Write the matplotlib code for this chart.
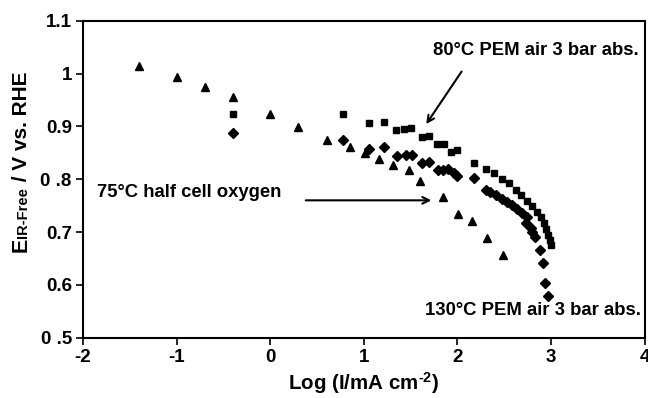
import matplotlib
matplotlib.use("Agg")
import matplotlib.pyplot as plt
from matplotlib.transforms import offset_copy

plt.rcParams['font.family'] = ['Liberation Sans', 'DejaVu Sans']
plt.rcParams['font.weight'] = 'bold'
plt.rcParams['mathtext.fontset'] = 'custom'
plt.rcParams['mathtext.rm'] = 'Liberation Sans:bold'
plt.rcParams['mathtext.bf'] = 'Liberation Sans:bold'
plt.rcParams['mathtext.it'] = 'Liberation Sans:bold'

# 80°C PEM air 3 bar abs. (squares)
sq_x = [-0.4, 0.78, 1.05, 1.21, 1.34, 1.43, 1.50, 1.62, 1.70, 1.78, 1.86, 1.93, 2.0,
        2.18, 2.30, 2.39, 2.48, 2.55, 2.62, 2.68, 2.745, 2.80, 2.845, 2.89, 2.92,
        2.95, 2.97, 2.99, 3.0]
sq_y = [0.923, 0.924, 0.907, 0.908, 0.893, 0.895, 0.896, 0.879, 0.881, 0.866, 0.866,
        0.852, 0.855, 0.830, 0.820, 0.811, 0.801, 0.792, 0.780, 0.770, 0.759, 0.749,
        0.738, 0.728, 0.717, 0.705, 0.694, 0.684, 0.675]

# 130°C PEM air 3 bar abs. (diamonds)
di_x = [-0.4, 0.78, 1.06, 1.22, 1.35, 1.45, 1.51, 1.62, 1.70, 1.79, 1.85, 1.90, 1.96,
        2.0, 2.18, 2.30, 2.35, 2.41, 2.48, 2.53, 2.585, 2.64, 2.69, 2.745, 2.73,
        2.78, 2.80, 2.83, 2.88, 2.91, 2.93, 2.97]
di_y = [0.887, 0.875, 0.858, 0.860, 0.844, 0.845, 0.845, 0.831, 0.833, 0.817, 0.818,
        0.820, 0.811, 0.807, 0.802, 0.779, 0.776, 0.771, 0.763, 0.757, 0.751, 0.743,
        0.736, 0.728, 0.717, 0.708, 0.700, 0.691, 0.666, 0.641, 0.603, 0.578]

# 75°C half cell oxygen (triangles)
tr_x = [-1.40, -1.0, -0.70, -0.40, 0.0, 0.30, 0.61, 0.85, 1.01, 1.16, 1.31, 1.48,
        1.60, 1.85, 2.01, 2.15, 2.31, 2.49]
tr_y = [1.014, 0.994, 0.975, 0.955, 0.923, 0.899, 0.875, 0.861, 0.850, 0.839, 0.826,
        0.817, 0.797, 0.766, 0.735, 0.721, 0.688, 0.656]

x_ticks = [-2, -1, 0, 1, 2, 3, 4]
x_ticklabels = ['-2', '-1', '0', '1', '2', '3', '4']
y_ticks = [0.5, 0.6, 0.7, 0.8, 0.9, 1.0, 1.1]
y_ticklabels = ['0 .5', '0.6', '0.7', '0 .8', '0.9', '1', '1.1']

fig = plt.figure(figsize=(6.48, 3.98), dpi=100)
ax = fig.add_axes([0.128, 0.1515, 0.867, 0.7965])

ax.plot(tr_x, tr_y, linestyle='none', marker='^', ms=6.2, color='black')
ax.plot(sq_x, sq_y, linestyle='none', marker='s', ms=4.8, color='black')
ax.plot(di_x, di_y, linestyle='none', marker='D', ms=4.8, color='black')

ax.set_xlim(-2, 4)
ax.set_ylim(0.5, 1.1)
ax.set_xticks(x_ticks)
ax.set_xticklabels(x_ticklabels)
ax.set_yticks(y_ticks)
ax.set_yticklabels(y_ticklabels)
ax.tick_params(direction='out', length=5, width=1.2, labelsize=13.5, pad=3)
for s in ax.spines.values():
    s.set_linewidth(1.5)

ax.set_xlabel(r'Log (I/mA cm$^{\text{-2}}$)', fontsize=14.8, fontweight='bold', labelpad=3)

# y label built from pieces so the subscript stays on the baseline
renderer = fig.canvas.get_renderer()
x0 = 27.0 / 648
y0 = 1 - 252.0 / 398
pieces = [('E', 15.5), ('IR-Free', 10.5), (' / V vs. RHE', 15.0)]
trans = fig.transFigure
for txt, fs in pieces:
    t = fig.text(x0, y0, txt, rotation=90, rotation_mode='anchor', ha='left',
                 va='baseline', fontsize=fs, fontweight='bold', transform=trans)
    bb = t.get_window_extent(renderer=renderer)
    trans = offset_copy(trans, fig=fig, x=0, y=bb.height * 72.0 / fig.dpi, units='points')

ax.text(3.93, 1.044, '80°C PEM air 3 bar abs.', ha='right', va='center',
        fontsize=13.3, fontweight='bold')
ax.annotate('', xy=(1.65, 0.90), xytext=(2.06, 1.008),
            arrowprops=dict(arrowstyle='->', color='black', lw=1.5, mutation_scale=12))

ax.text(-1.85, 0.775, '75°C half cell oxygen', ha='left', va='center',
        fontsize=13.3, fontweight='bold')
ax.annotate('', xy=(1.75, 0.76), xytext=(0.35, 0.76),
            arrowprops=dict(arrowstyle='->', color='black', lw=1.5, mutation_scale=12))

ax.text(3.96, 0.552, '130°C PEM air 3 bar abs.', ha='right', va='center',
        fontsize=13.3, fontweight='bold')

fig.savefig('out.png', dpi=100)
